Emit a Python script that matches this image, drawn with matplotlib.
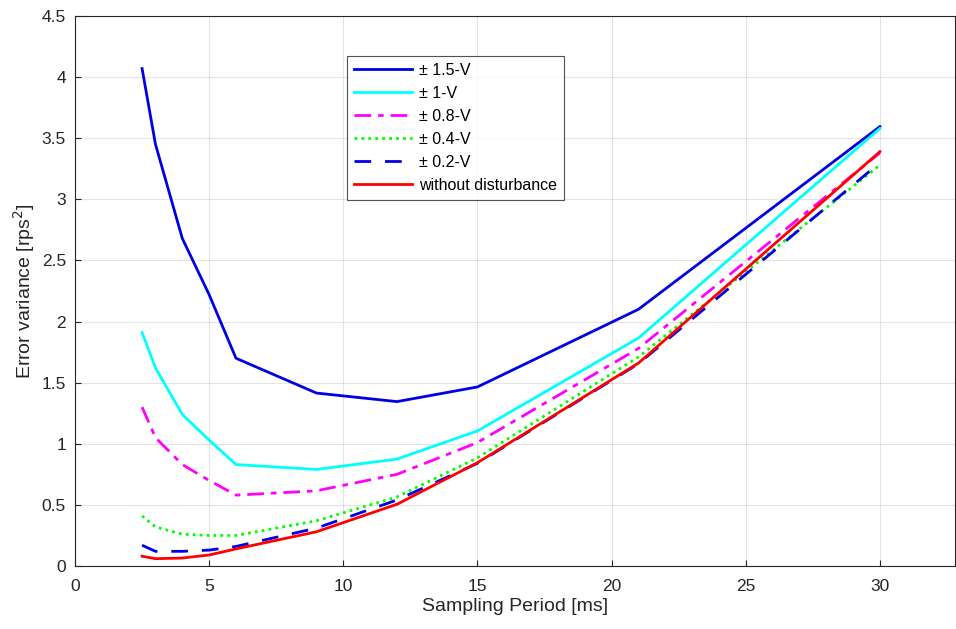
import matplotlib
matplotlib.use("Agg")
import matplotlib.pyplot as plt

x = [2.5, 3, 4, 5, 6, 9, 12, 15, 21, 30]
v15 = [4.07, 3.45, 2.68, 2.22, 1.70, 1.415, 1.345, 1.465, 2.10, 3.595]
v10 = [1.91, 1.62, 1.24, 1.03, 0.83, 0.79, 0.875, 1.105, 1.865, 3.58]
v08 = [1.30, 1.05, 0.83, 0.70, 0.58, 0.615, 0.75, 1.01, 1.78, 3.38]
v04 = [0.41, 0.32, 0.26, 0.25, 0.25, 0.37, 0.565, 0.885, 1.71, 3.28]
v02 = [0.17, 0.12, 0.12, 0.13, 0.16, 0.31, 0.54, 0.84, 1.655, 3.30]
v00 = [0.08, 0.06, 0.065, 0.09, 0.14, 0.28, 0.505, 0.845, 1.66, 3.39]
labels = ["\u00b1 1.5-V", "\u00b1 1-V", "\u00b1 0.8-V", "\u00b1 0.4-V", "\u00b1 0.2-V", "without disturbance"]

plt.rcParams['font.family'] = ['Liberation Sans', 'DejaVu Sans']
fig = plt.figure(figsize=(9.56, 6.29), dpi=100)
ax = fig.add_axes([75/956, 1-566/629, 880/956, 550/629])

lw = 2.0
ax.plot(x, v15, color=(0, 0, 0.9), lw=lw, label=labels[0])
ax.plot(x, v10, color=(0, 1, 1), lw=lw, label=labels[1])
ax.plot(x, v08, color=(1, 0, 1), lw=lw, ls=(0, (6, 2.5, 2, 2.5)), label=labels[2])
ax.plot(x, v04, color=(0, 1, 0), lw=lw, ls=(0, (1, 1.5)), label=labels[3])
ax.plot(x, v02, color=(0, 0, 0.9), lw=lw, ls=(0, (6, 5)), label=labels[4])
ax.plot(x, v00, color=(1, 0, 0), lw=lw, label=labels[5])

ax.set_xlim(0, 32.8)
ax.set_ylim(0, 4.5)
ax.set_xticks([0, 5, 10, 15, 20, 25, 30])
ax.set_yticks([0, 0.5, 1, 1.5, 2, 2.5, 3, 3.5, 4, 4.5])
ax.set_yticklabels(["0", "0.5", "1", "1.5", "2", "2.5", "3", "3.5", "4", "4.5"])
ax.grid(True, color=(0.15, 0.15, 0.15), alpha=0.12, lw=0.8)
ax.tick_params(direction='in', length=4, labelsize=12.5, colors=(0.15, 0.15, 0.15), top=False, right=False)
ax.tick_params(axis='x', pad=9.3)
ax.tick_params(axis='y', pad=6.5)
for s in ax.spines.values():
    s.set_color((0.15, 0.15, 0.15))
    s.set_linewidth(0.8)
ax.set_xlabel("Sampling Period [ms]", fontsize=14, color=(0.15, 0.15, 0.15), labelpad=3)
ax.set_ylabel("Error variance [rps$^2$]", fontsize=14, color=(0.15, 0.15, 0.15), labelpad=3)

leg = ax.legend(loc='upper left', bbox_to_anchor=(0.3, 0.9425), fontsize=11.5,
                frameon=True, fancybox=False, edgecolor=(0.15, 0.15, 0.15),
                handlelength=3.6, handletextpad=0.45, borderpad=0.45, labelspacing=0.5)
leg.get_frame().set_linewidth(0.8)

fig.savefig("out.png", dpi=100)
